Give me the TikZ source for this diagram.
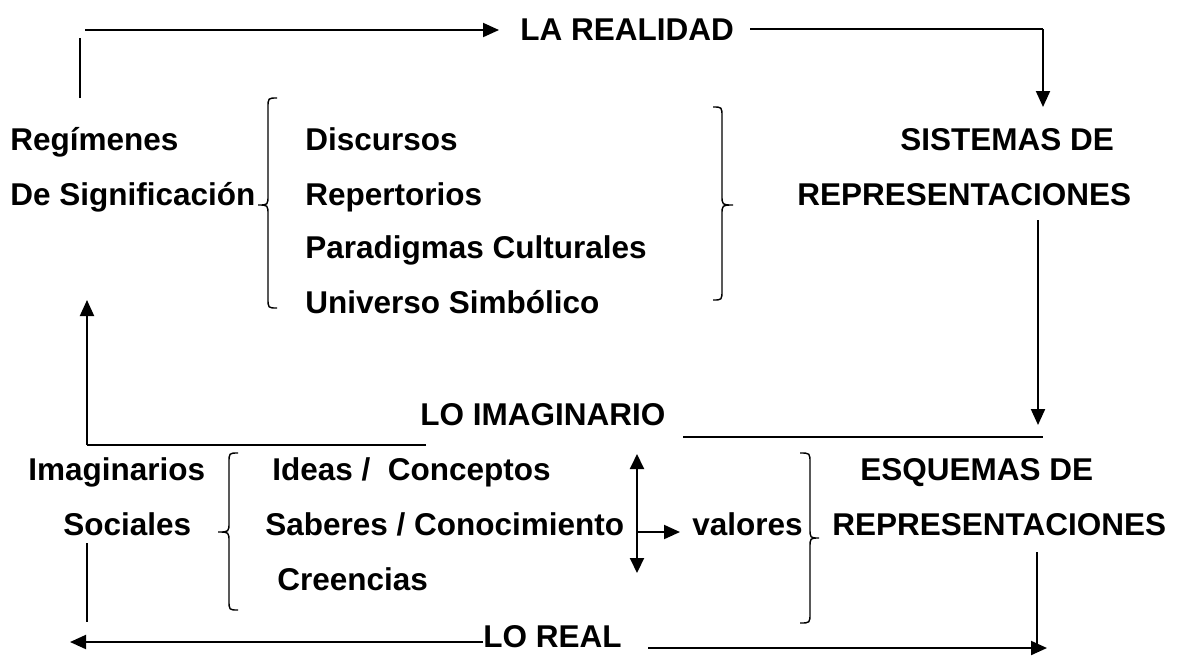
\documentclass[tikz,border=0pt]{standalone}
\usepackage{fontspec}
\setmainfont{Liberation Sans}
\usetikzlibrary{arrows.meta}
\newcommand\BraceShape[6]{%
  \draw[bracestyle] (#2,#4) .. controls (#1,#4) .. (#1,{#4+10}) -- (#1,{#5-10})
    .. controls (#1,#5) .. (#3,#5) .. controls (#1,#5) .. (#1,{#5+10})
    -- (#1,{#6-10}) .. controls (#1,#6) .. (#2,#6);}
\tikzset{
  lbl/.style={anchor=base west, inner sep=0pt, font=\bfseries\fontsize{15.75}{18}\selectfont},
  thick line/.style={line width=1pt},
  thin line/.style={line width=0.75pt},
  arr/.style={line width=1pt, -{Triangle[length=8pt,width=7pt]}},
  darr/.style={line width=1pt, {Triangle[length=7.5pt,width=7pt]}-{Triangle[length=7.5pt,width=7pt]}},
  bracestyle/.style={line width=0.7pt}
}
\begin{document}
\begin{tikzpicture}[x=0.5pt,y=-0.5pt]
\useasboundingbox (0,0) rectangle (1187,655);
% texts
\node[lbl] (la) at (520,40) {LA REALIDAD};
\node[lbl] (sis1) at (900,150) {SISTEMAS DE};
\node[lbl] (sis2) at (797,205) {REPRESENTACIONES};
\node[lbl] (reg1) at (10,150) {Regímenes};
\node[lbl] (reg2) at (10,205) {De Significación};
\node[lbl] (d1) at (305,150) {Discursos};
\node[lbl] (d2) at (305,205) {Repertorios};
\node[lbl] (d3) at (305,258) {Paradigmas Culturales};
\node[lbl] (d4) at (305,313) {Universo Simbólico};
\node[lbl] (imag) at (420,425) {LO IMAGINARIO};
\node[lbl] (im1) at (28,480) {Imaginarios};
\node[lbl] (im2) at (63,535) {Sociales};
\node[lbl] (i1) at (272,480) {Ideas /\ \ Conceptos};
\node[lbl] (i2) at (265,535) {Saberes / Conocimiento};
\node[lbl] (i3) at (277,590) {Creencias};
\node[lbl] (val) at (692,535) {valores};
\node[lbl] (esq1) at (860,480) {ESQUEMAS DE};
\node[lbl] (esq2) at (832,535) {REPRESENTACIONES};
\node[lbl] (real) at (483,647) {LO REAL};
% coordinates
\coordinate (a0) at (80,98);
\coordinate (a1) at (80,38);
\coordinate (a2) at (85,30);
\coordinate (a3) at (499,30);
\coordinate (b0) at (750,29);
\coordinate (b1) at (1043,29);
\coordinate (b2) at (1043,107);
\coordinate (c0) at (1038,220);
\coordinate (c1) at (1038,425);
\coordinate (e0) at (683,437);
\coordinate (e1) at (1043,437);
\coordinate (f0) at (426,445);
\coordinate (f1) at (87,445);
\coordinate (f2) at (87,300);
\coordinate (g0) at (637,454);
\coordinate (g1) at (637,573);
\coordinate (h0) at (637,532);
\coordinate (h1) at (680,532);
\coordinate (k0) at (87,543);
\coordinate (k1) at (87,622);
\coordinate (l0) at (483,642);
\coordinate (l1) at (70,642);
\coordinate (m0) at (1037,552);
\coordinate (m1) at (1037,645);
\coordinate (n0) at (648,648);
\coordinate (n1) at (1047,648);
% connectors
\draw[thick line] (a0) -- (a1);
\draw[arr] (a2) -- (a3);
\draw[thick line] (b0) -- (b1);
\draw[arr] (b1) -- (b2);
\draw[arr] (c0) -- (c1);
\draw[thin line] (e0) -- (e1);
\draw[thick line] (f0) -- (f1);
\draw[arr] (f1) -- (f2);
\draw[darr] (g0) -- (g1);
\draw[arr] (h0) -- (h1);
\draw[thin line] (k0) -- (k1);
\draw[arr] (l0) -- (l1);
\draw[thin line] (m0) -- (m1);
\draw[arr] (n0) -- (n1);
% braces
\BraceShape{268}{277}{258}{98}{205}{308}
\BraceShape{722}{713}{733}{107}{205}{300}
\BraceShape{229}{238}{218}{453}{532}{610}
\BraceShape{810}{800}{819}{453}{538}{623}
\end{tikzpicture}
\end{document}
